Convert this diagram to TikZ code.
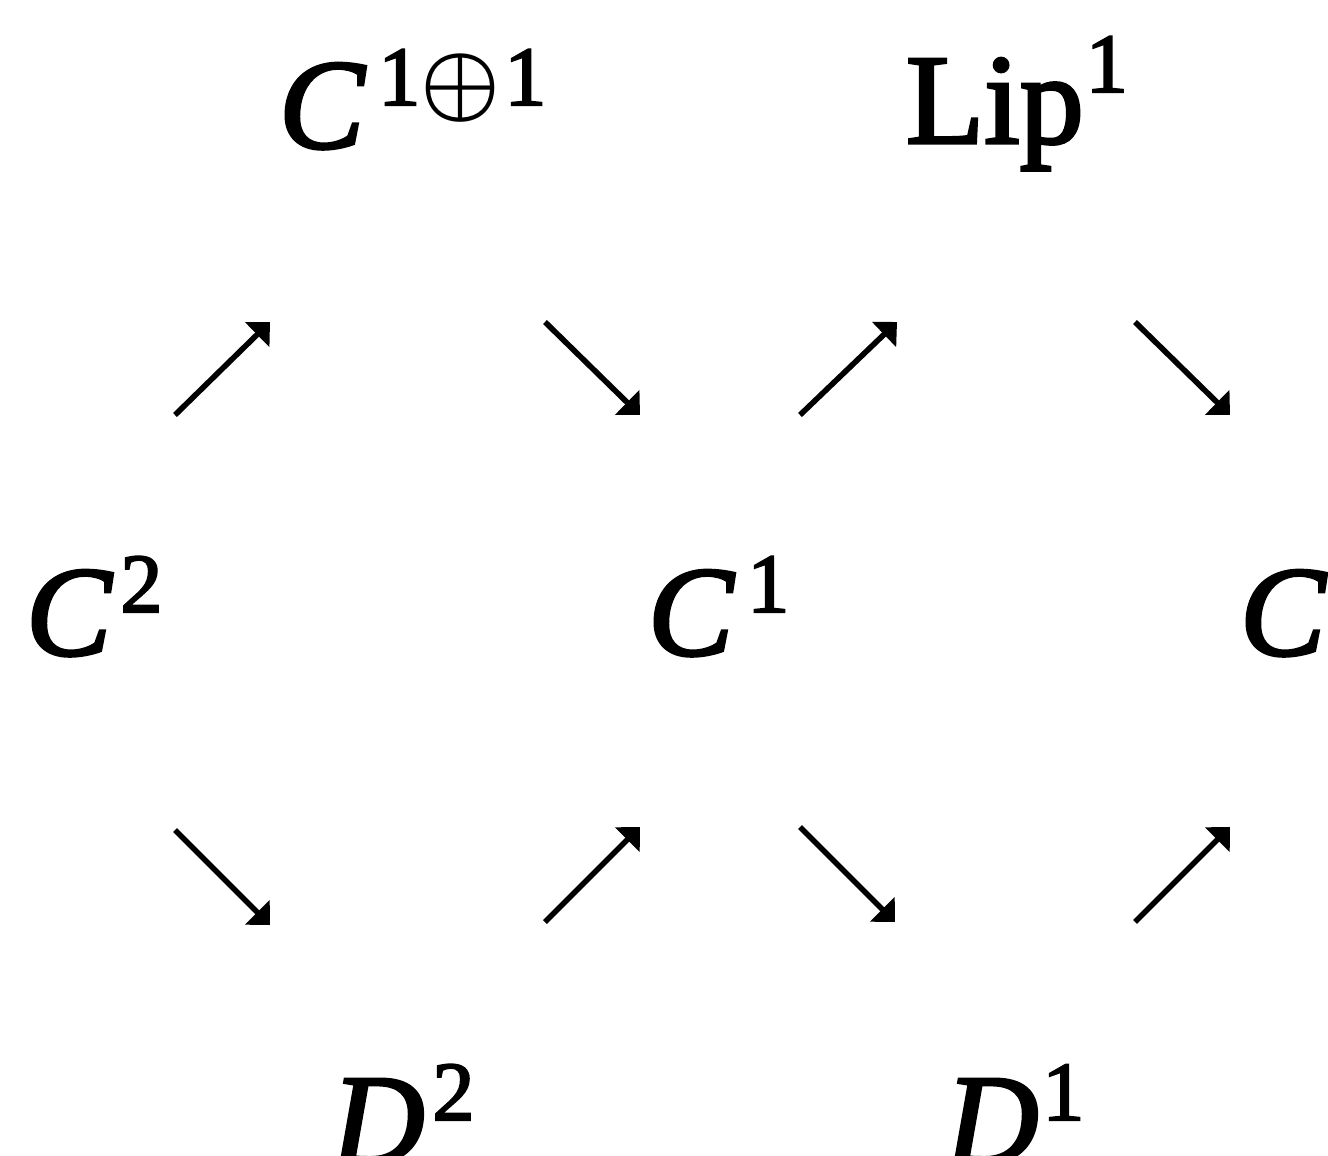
\documentclass[tikz,border=0pt]{standalone}
\usepackage{fontspec}
\setmainfont{Liberation Serif}[FakeBold=2.5]
\usetikzlibrary{arrows.meta}
\newcommand\supx[2]{\raisebox{#1}{\fontsize{42}{46}\selectfont\upshape #2}}
\newcommand\oplx{\raisebox{-3pt}{\scalebox{1.8}{\boldmath$\oplus$}}}
\begin{document}
\begin{tikzpicture}[x=0.5pt,y=-0.5pt,
  lab/.style={anchor=base west,inner sep=0pt,outer sep=0pt,font=\fontsize{64}{70}\selectfont},
  arr/.style={line width=2.8pt,-{Triangle[length=9pt,width=17pt]}}]
\useasboundingbox (0,0) rectangle (1328,1156);
% labels
\node[lab] (C11) at (279,148) {\itshape C\hspace{7pt}\supx{21.5pt}{1\hspace{0pt}\oplx\hspace{2pt}1}};
\node[lab] (Lip) at (906,143) {Lip\hspace{1pt}\supx{25.5pt}{1}};
\node[lab] (C2) at (26,655) {\itshape C\hspace{4.5pt}\supx{21.5pt}{2}};
\node[lab] (C1) at (648,655) {\itshape C\hspace{7pt}\supx{21.5pt}{1}};
\node[lab] (C0) at (1240,655) {\itshape C};
\node[lab] (D2) at (332,1163) {\itshape D\hspace{4pt}\supx{21.5pt}{2}};
\node[lab] (D1) at (946,1163) {\itshape D\hspace{2pt}\supx{21.5pt}{1}};
% arrow end points
\coordinate (a1s) at (175,415); \coordinate (a1e) at (270,322);
\coordinate (a2s) at (545,322); \coordinate (a2e) at (640,415);
\coordinate (a3s) at (800,415); \coordinate (a3e) at (897,322);
\coordinate (a4s) at (1135,322); \coordinate (a4e) at (1230,415);
\coordinate (b1s) at (175,830); \coordinate (b1e) at (270,925);
\coordinate (b2s) at (545,922); \coordinate (b2e) at (640,827);
\coordinate (b3s) at (800,827); \coordinate (b3e) at (895,922);
\coordinate (b4s) at (1135,922); \coordinate (b4e) at (1230,827);
\draw[arr] (a1s) -- (a1e);
\draw[arr] (a2s) -- (a2e);
\draw[arr] (a3s) -- (a3e);
\draw[arr] (a4s) -- (a4e);
\draw[arr] (b1s) -- (b1e);
\draw[arr] (b2s) -- (b2e);
\draw[arr] (b3s) -- (b3e);
\draw[arr] (b4s) -- (b4e);
\end{tikzpicture}
\end{document}
